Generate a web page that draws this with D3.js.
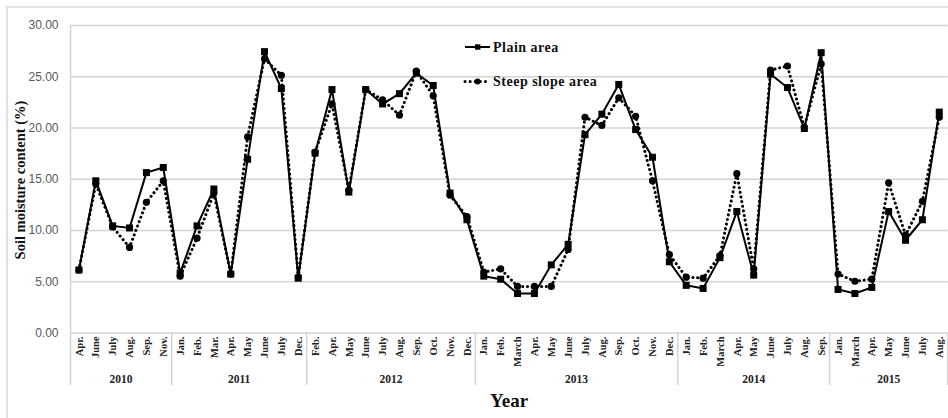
<!DOCTYPE html>
<html>
<head>
<meta charset="utf-8">
<script src="https://cdn.jsdelivr.net/npm/d3@7"></script>
<style>
  html, body { margin: 0; padding: 0; background: #fff; }
  svg { display: block; }
</style>
</head>
<body>
<svg id="chart" width="948" height="418"></svg>
<script>
// Monthly soil moisture content, plain area vs. steep slope area
const months = [
  "Apr.", "June", "July", "Aug.", "Sep.", "Nov.",
  "Jan.", "Feb.", "Mar.", "Apr.", "May", "June", "July", "Dec.",
  "Feb.", "Apr.", "May", "June", "July", "Aug.", "Sep.", "Oct.", "Nov.", "Dec.",
  "Jan.", "Feb.", "March", "Apr.", "May", "June", "July", "Aug.", "Sep.", "Oct.", "Nov.", "Dec.",
  "Jan.", "Feb.", "March", "Apr.", "May", "June", "July", "Aug.", "Sep.",
  "Jan.", "March", "Apr.", "May", "June", "July", "Aug."
];
const monthYears = [
  "2010", "2010", "2010", "2010", "2010", "2010",
  "2011", "2011", "2011", "2011", "2011", "2011", "2011", "2011",
  "2012", "2012", "2012", "2012", "2012", "2012", "2012", "2012", "2012", "2012",
  "2013", "2013", "2013", "2013", "2013", "2013", "2013", "2013", "2013", "2013", "2013", "2013",
  "2014", "2014", "2014", "2014", "2014", "2014", "2014", "2014", "2014",
  "2015", "2015", "2015", "2015", "2015", "2015", "2015"
];
const plainArea = [
  6.1, 14.8, 10.4, 10.2, 15.6, 16.1,
  5.8, 10.4, 14.0, 5.7, 16.9, 27.4, 23.8, 5.3,
  17.5, 23.7, 13.7, 23.7, 22.3, 23.3, 25.3, 24.1, 13.6, 11.0,
  5.5, 5.2, 3.8, 3.8, 6.6, 8.6, 19.3, 21.3, 24.2, 19.8, 17.1, 6.9,
  4.6, 4.3, 7.3, 11.8, 5.6, 25.2, 23.9, 19.9, 27.3,
  4.2, 3.8, 4.4, 11.8, 9.0, 11.0, 21.5
];
const steepSlopeArea = [
  6.1, 14.5, 10.3, 8.3, 12.7, 14.8,
  5.5, 9.2, 13.6, 5.7, 19.1, 26.7, 25.1, 5.4,
  17.6, 22.3, 13.9, 23.7, 22.7, 21.2, 25.5, 23.1, 13.4, 11.3,
  5.9, 6.2, 4.5, 4.5, 4.5, 8.1, 21.0, 20.2, 22.9, 21.1, 14.8, 7.6,
  5.4, 5.3, 7.5, 15.5, 6.2, 25.6, 26.0, 20.0, 26.2,
  5.7, 5.0, 5.2, 14.6, 9.5, 12.8, 21.0
];
const yTicks = [0, 5, 10, 15, 20, 25, 30];

const svg = d3.select("#chart");
const W = 948, H = 418;
const plot = { left: 70.5, right: 947.7, top: 25, bottom: 332.5 };
const serif = "'Liberation Serif', 'Times New Roman', serif";
const sans = "'Liberation Sans', Arial, sans-serif";
const gridColor = "#d4d4d4";

// chart frame
svg.append("rect")
  .attr("x", 7).attr("y", 7).attr("width", W + 10).attr("height", H + 10)
  .attr("fill", "#fff").attr("stroke", "#d0d0d0").attr("stroke-width", 1.2);

const idx = d3.range(months.length);
const x = d3.scaleBand().domain(idx).range([plot.left, plot.right]).padding(0);
const cx = i => x(i) + x.bandwidth() / 2;
const y = d3.scaleLinear().domain([0, 30]).range([plot.bottom, plot.top]);

// horizontal gridlines + value labels
const yAxis = d3.axisLeft(y).tickValues(yTicks).tickFormat(d3.format(".2f"))
  .tickSize(-(plot.right - plot.left)).tickPadding(12);
const gy = svg.append("g").attr("transform", `translate(${plot.left},0)`).call(yAxis);
gy.select(".domain").remove();
gy.selectAll(".tick line").attr("stroke", gridColor).attr("stroke-width", 1.5);
gy.selectAll(".tick text")
  .attr("font-family", sans).attr("font-size", 12).attr("fill", "#595959");

// vertical axis line running down through the category labels
svg.append("line")
  .attr("x1", plot.left).attr("x2", plot.left)
  .attr("y1", plot.top).attr("y2", 385)
  .attr("stroke", gridColor).attr("stroke-width", 1.5);

// year groups
const groups = [];
monthYears.forEach((yr, i) => {
  const g = groups[groups.length - 1];
  if (g && g.year === yr) g.end = i; else groups.push({ year: yr, start: i, end: i });
});

// group separators
svg.append("g").selectAll("line")
  .data(groups)
  .join("line")
  .attr("x1", d => x(d.end) + x.bandwidth()).attr("x2", d => x(d.end) + x.bandwidth())
  .attr("y1", plot.bottom).attr("y2", 385)
  .attr("stroke", gridColor).attr("stroke-width", 1.5);

// month labels (rotated)
svg.append("g").selectAll("text")
  .data(idx)
  .join("text")
  .attr("transform", i => `translate(${cx(i)},${plot.bottom + 4}) rotate(-90)`)
  .attr("text-anchor", "end")
  .attr("dy", "0.35em")
  .attr("font-family", serif).attr("font-weight", "bold").attr("font-size", 10.5)
  .attr("fill", "#222")
  .text(i => months[i]);

// year labels
svg.append("g").selectAll("text")
  .data(groups)
  .join("text")
  .attr("x", d => (x(d.start) + x(d.end) + x.bandwidth()) / 2)
  .attr("y", 383)
  .attr("text-anchor", "middle")
  .attr("font-family", serif).attr("font-weight", "bold").attr("font-size", 11.5)
  .attr("fill", "#222")
  .text(d => d.year);

// axis titles
svg.append("text")
  .attr("x", (plot.left + plot.right) / 2).attr("y", 407)
  .attr("text-anchor", "middle")
  .attr("font-family", serif).attr("font-weight", "bold").attr("font-size", 19)
  .attr("fill", "#111")
  .text("Year");

svg.append("text")
  .attr("transform", `translate(25,180) rotate(-90)`)
  .attr("text-anchor", "middle")
  .attr("font-family", serif).attr("font-weight", "bold").attr("font-size", 14.5)
  .attr("fill", "#111")
  .text("Soil moisture content (%)");

// series
const line = d3.line().x((d, i) => cx(i)).y(d => y(d));

svg.append("path")
  .datum(steepSlopeArea)
  .attr("d", line)
  .attr("fill", "none").attr("stroke", "#000").attr("stroke-width", 3)
  .attr("stroke-linecap", "round").attr("stroke-dasharray", "0.1,4.6");

svg.append("path")
  .datum(plainArea)
  .attr("d", line)
  .attr("fill", "none").attr("stroke", "#000").attr("stroke-width", 2);

svg.append("g").selectAll("circle")
  .data(steepSlopeArea)
  .join("circle")
  .attr("cx", (d, i) => cx(i)).attr("cy", d => y(d)).attr("r", 3.6)
  .attr("fill", "#000");

svg.append("g").selectAll("rect")
  .data(plainArea)
  .join("rect")
  .attr("x", (d, i) => cx(i) - 3.5).attr("y", d => y(d) - 3.5)
  .attr("width", 7).attr("height", 7)
  .attr("fill", "#000");

// legend
const legend = svg.append("g").attr("font-family", serif).attr("font-weight", "bold")
  .attr("font-size", 14).attr("letter-spacing", 0.5).attr("fill", "#111");

const l1 = legend.append("g").attr("transform", "translate(465,47)");
l1.append("line").attr("x1", 0).attr("x2", 25).attr("stroke", "#000").attr("stroke-width", 2);
l1.append("rect").attr("x", 10).attr("y", -2.7).attr("width", 5.4).attr("height", 5.4).attr("fill", "#000");
l1.append("text").attr("x", 28).attr("y", 4.5).text("Plain area");

const l2 = legend.append("g").attr("transform", "translate(465,81.5)");
l2.append("line").attr("x1", 0).attr("x2", 25).attr("stroke", "#000").attr("stroke-width", 3)
  .attr("stroke-linecap", "round").attr("stroke-dasharray", "0.1,5");
l2.append("circle").attr("cx", 12.5).attr("cy", 0).attr("r", 3).attr("fill", "#000");
l2.append("text").attr("x", 28).attr("y", 4.5).text("Steep slope area");
</script>
</body>
</html>
